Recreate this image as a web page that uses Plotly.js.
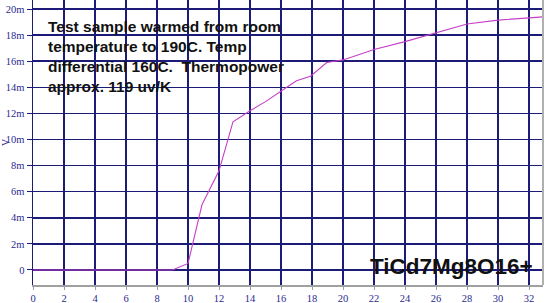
<!DOCTYPE html>
<html><head><meta charset="utf-8">
<script src="https://cdn.plot.ly/plotly-3.0.1.min.js"></script>
<style>html,body{margin:0;padding:0;background:#fff}#c{width:550px;height:303px}</style>
</head><body><div id="c"></div>
<script>
// time (x) and voltage in millivolts (y)
const xVals = [0, 9, 10, 10.9, 12, 12.9, 14, 15, 16.3, 17, 17.9, 18.95, 20, 22, 24, 26, 28, 30, 32.9];
const yMilliV = [0, 0, 0.5, 5.0, 7.6, 11.35, 12.2, 12.9, 13.95, 14.5, 14.85, 15.9, 16.1, 16.9, 17.5, 18.2, 18.85, 19.15, 19.4];
const yTickVals = [0, 2, 4, 6, 8, 10, 12, 14, 16, 18, 20];
const yTickText = ["0", "2m", "4m", "6m", "8m", "10m", "12m", "14m", "16m", "18m", "20m"];
const noteText = "Test sample warmed from room<br>temperature to 190C. Temp<br>differential 160C.  Thermopower<br>approx. 119 uv/K";
const sampleName = "TiCd7Mg8O16+";

const grid = "#1c1c78";
const tickFont = {family: "Liberation Serif, serif", size: 10.5, color: "#2a2a90"};

Plotly.newPlot("c", [{
  x: xVals, y: yMilliV, type: "scatter", mode: "lines",
  line: {color: "#c440c8", width: 1.1}, hoverinfo: "skip"
}], {
  width: 550, height: 303,
  margin: {l: 33, r: 7, t: 0, b: 18},
  paper_bgcolor: "#fff", plot_bgcolor: "#fff",
  showlegend: false,
  xaxis: {
    range: [0, 32.9], tickmode: "linear", tick0: 0, dtick: 2,
    showgrid: true, gridcolor: grid, gridwidth: 1.5,
    zeroline: false, showline: true, linecolor: "#a0a0a0", linewidth: 1.5,
    ticks: "outside", ticklen: 3, tickcolor: "#a0a0a0",
    tickfont: tickFont
  },
  yaxis: {
    range: [-1.15, 20.69], tickmode: "array", tickvals: yTickVals, ticktext: yTickText,
    showgrid: true, gridcolor: grid, gridwidth: 1.5,
    zeroline: false, showline: true, linecolor: grid, linewidth: 1.5,
    ticks: "outside", ticklen: 5, tickcolor: grid,
    tickfont: tickFont,
    title: {text: "V", font: {family: "Liberation Serif, serif", size: 10, color: "#2a2a90"}, standoff: 2}
  },
  shapes: [{type: "line", xref: "paper", yref: "paper", x0: 1, x1: 1, y0: 0, y1: 1,
    line: {color: "#b0b0b0", width: 2}}],
  annotations: [
    {text: noteText, xref: "paper", yref: "paper", x: 0.026, y: 0.944, xanchor: "left", yanchor: "top",
      align: "left", showarrow: false,
      font: {family: "Liberation Sans, Arial, sans-serif", size: 15.5, color: "#111", weight: "bold"}},
    {text: sampleName, xref: "paper", yref: "paper", x: 0.985, y: 0.015, xanchor: "right", yanchor: "bottom",
      showarrow: false,
      font: {family: "Liberation Sans, Arial, sans-serif", size: 22.5, color: "#111", weight: "bold"}}
  ]
}, {staticPlot: true, displayModeBar: false});
</script></body></html>
